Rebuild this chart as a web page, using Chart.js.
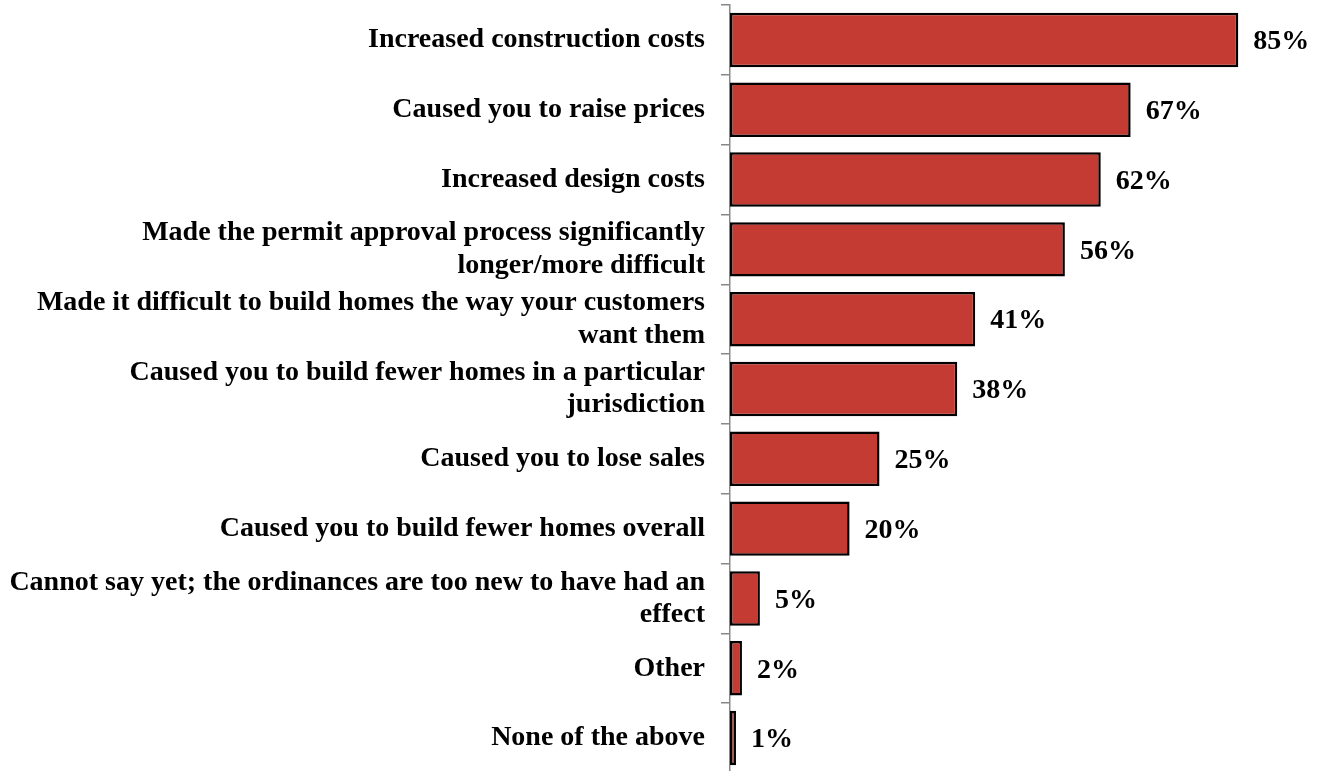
<!DOCTYPE html>
<html>
<head>
<meta charset="utf-8">
<script src="https://cdn.jsdelivr.net/npm/chart.js@4"></script>
<style>
  html, body { margin: 0; padding: 0; background: #fff; overflow: hidden; }
  canvas { display: block; }
</style>
</head>
<body>
<canvas id="effectsChart" width="1329" height="780"></canvas>
<script>
// survey answers, top to bottom
const effects = [
    'Increased construction costs',
    'Caused you to raise prices',
    'Increased design costs',
    ['Made the permit approval process significantly', 'longer/more difficult'],
    ['Made it difficult to build homes the way your customers', 'want them'],
    ['Caused you to build fewer homes in a particular', 'jurisdiction'],
    'Caused you to lose sales',
    'Caused you to build fewer homes overall',
    ['Cannot say yet; the ordinances are too new to have had an', 'effect'],
    'Other',
    'None of the above'
];
const shares = [85, 67, 62, 56, 41, 38, 25, 20, 5, 2, 1];

const serifBold = {family: "'Liberation Serif', 'Times New Roman', serif", weight: 'bold', size: 28};

// percent labels next to each bar
const valueLabels = {
    id: 'valueLabels',
    afterDatasetsDraw(chart) {
        const ctx = chart.ctx;
        const meta = chart.getDatasetMeta(0);
        ctx.save();
        ctx.font = 'bold 28px ' + serifBold.family;
        ctx.fillStyle = '#000';
        ctx.textAlign = 'left';
        ctx.textBaseline = 'middle';
        meta.data.forEach((bar, i) => {
            ctx.fillText(shares[i] + '%', bar.x + 15, bar.y + 2);
        });
        ctx.restore();
    }
};

const ctx = document.getElementById('effectsChart').getContext('2d');
new Chart(ctx, {
    type: 'bar',
    data: {
        labels: effects,
        datasets: [{
            data: shares,
            backgroundColor: '#C33B33',
            borderColor: '#000',
            borderWidth: 2.5,
            borderSkipped: false,
            barPercentage: 0.78,
            categoryPercentage: 1
        }]
    },
    options: {
        indexAxis: 'y',
        responsive: false,
        animation: false,
        layout: {padding: {top: 5, bottom: 7, right: 1, left: 0}},
        plugins: {
            legend: {display: false},
            tooltip: {enabled: false}
        },
        scales: {
            x: {
                display: false,
                min: 0,
                max: 100
            },
            y: {
                offset: true,
                afterFit(scale) {
                    // fixed label column, no extra room for half-labels
                    scale.width = 730;
                    scale.paddingTop = 0;
                    scale.paddingBottom = 0;
                },
                grid: {
                    offset: true,
                    drawOnChartArea: false,
                    tickLength: 9,
                    color: '#888',
                    lineWidth: 1.5
                },
                border: {color: '#888', width: 1.5},
                ticks: {
                    autoSkip: false,
                    padding: 16,
                    color: '#000',
                    font: {...serifBold, lineHeight: 1.15}
                }
            }
        }
    },
    plugins: [valueLabels]
});
</script>
</body>
</html>
